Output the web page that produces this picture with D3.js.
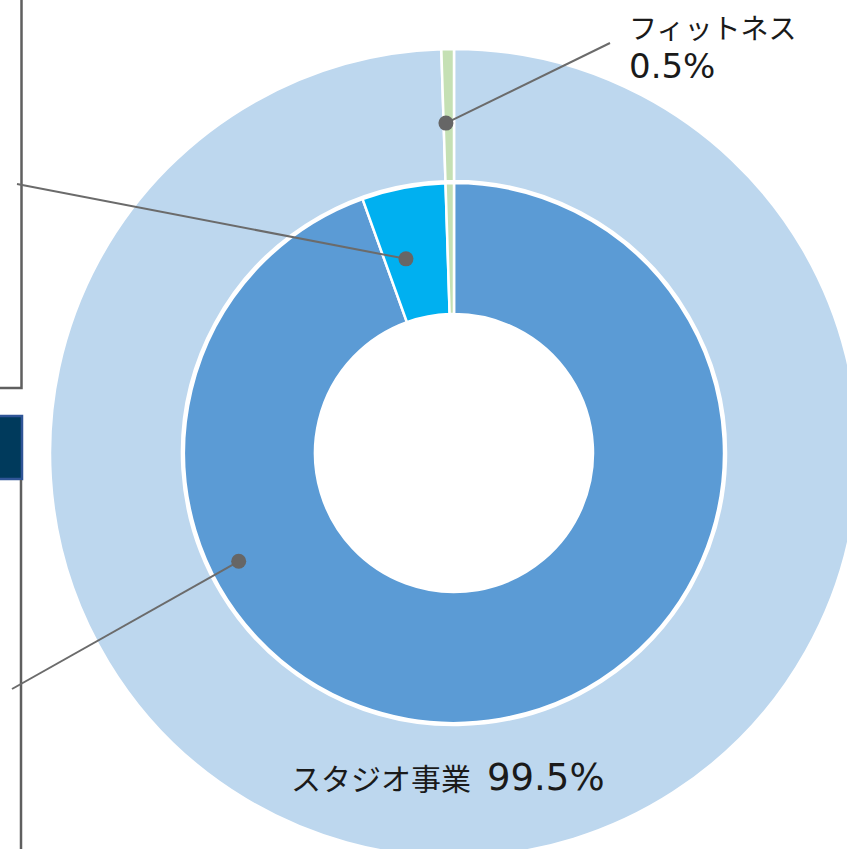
<!DOCTYPE html>
<html>
<head>
<meta charset="utf-8">
<script src="https://cdn.jsdelivr.net/npm/d3@7"></script>
<style>
  body { margin: 0; background: #fff; }
  svg { display: block; }
</style>
</head>
<body>
<div id="chart"></div>
<script>

// outer ring: segments
var outerNames = ["スタジオ事業", "フィットネス"];
var outerValues = [99.5, 0.5];
var outerColors = ["#bdd7ee", "#c5e0b4"];

// inner ring
var innerNames = ["スタジオ", "その他", "フィットネス"];
var innerValues = [94.5, 5.0, 0.5];
var innerColors = ["#5b9bd5", "#00b0f0", "#c5e0b4"];

// leader dots: angle (deg, clockwise from top) and radius
var leaderAngles = [-1.4, -13.9, 243.3];
var leaderRadii = [330, 200, 241];
var leaderEnds = [[610, 43], [17, 184], [12, 689]];

function init(){

	var w = 847;
	var h = 849;
	var cx = 454, cy = 453;

	var svg = d3.select("#chart")
				.append("svg")
				.attr("width", w)
				.attr("height", h);

	// frame of neighbouring panel (cropped)
	svg.append("path")
		.attr("d", "M21.5,0 V388 H0")
		.attr("fill", "none")
		.attr("stroke", "#5f5f5f")
		.attr("stroke-width", 2.5);
	svg.append("rect")
		.attr("x", -2).attr("y", 416)
		.attr("width", 24).attr("height", 63)
		.attr("fill", "#003a5c")
		.attr("stroke", "#2f5597")
		.attr("stroke-width", 2.5);
	svg.append("line")
		.attr("x1", 21).attr("y1", 480)
		.attr("x2", 21).attr("y2", h)
		.attr("stroke", "#5f5f5f")
		.attr("stroke-width", 2.5);

	var g = svg.append("g")
		.attr("transform", "translate(" + cx + "," + cy + ")");

	var pie = d3.pie().sort(null).value(function(d){ return d; });

	var outerArc = d3.arc().innerRadius(272).outerRadius(404);
	var innerArc = d3.arc().innerRadius(139).outerRadius(270);

	g.selectAll("path.outer")
		.data(pie(outerValues))
		.enter()
		.append("path")
		.attr("class", "outer")
		.attr("d", outerArc)
		.attr("fill", function(d, i){ return outerColors[i]; })
		.attr("stroke", "#fff")
		.attr("stroke-width", 2.5);

	g.selectAll("path.inner")
		.data(pie(innerValues))
		.enter()
		.append("path")
		.attr("class", "inner")
		.attr("d", innerArc)
		.attr("fill", function(d, i){ return innerColors[i]; })
		.attr("stroke", "#fff")
		.attr("stroke-width", 2.5);

	// leader lines
	leaderAngles.forEach(function(a, i){
		var p = d3.pointRadial(a * Math.PI / 180, leaderRadii[i]);
		var px = cx + p[0], py = cy + p[1];
		svg.append("line")
			.attr("x1", px).attr("y1", py)
			.attr("x2", leaderEnds[i][0]).attr("y2", leaderEnds[i][1])
			.attr("stroke", "#6b6b6b")
			.attr("stroke-width", 2);
		svg.append("circle")
			.attr("cx", px).attr("cy", py)
			.attr("r", 7.5)
			.attr("fill", "#666");
	});

	// labels
	var jp = "'Noto Sans CJK JP', sans-serif";
	var num = "'DejaVu Sans', sans-serif";

	svg.append("text")
		.attr("x", 629).attr("y", 39)
		.attr("font-family", jp)
		.attr("font-size", 28)
		.attr("fill", "#1a1a1a")
		.text(outerNames[1]);
	svg.append("text")
		.attr("x", 629).attr("y", 78)
		.attr("font-family", num)
		.attr("font-size", 34)
		.attr("fill", "#1a1a1a")
		.text(outerValues[1] + "%");

	svg.append("text")
		.attr("x", 291).attr("y", 790)
		.attr("font-family", jp)
		.attr("font-size", 30)
		.attr("fill", "#1a1a1a")
		.text(outerNames[0]);
	svg.append("text")
		.attr("x", 487).attr("y", 790)
		.attr("font-family", num)
		.attr("font-size", 37)
		.attr("fill", "#1a1a1a")
		.text(outerValues[0] + "%");
}

window.onload = init;
</script>
</body>
</html>
